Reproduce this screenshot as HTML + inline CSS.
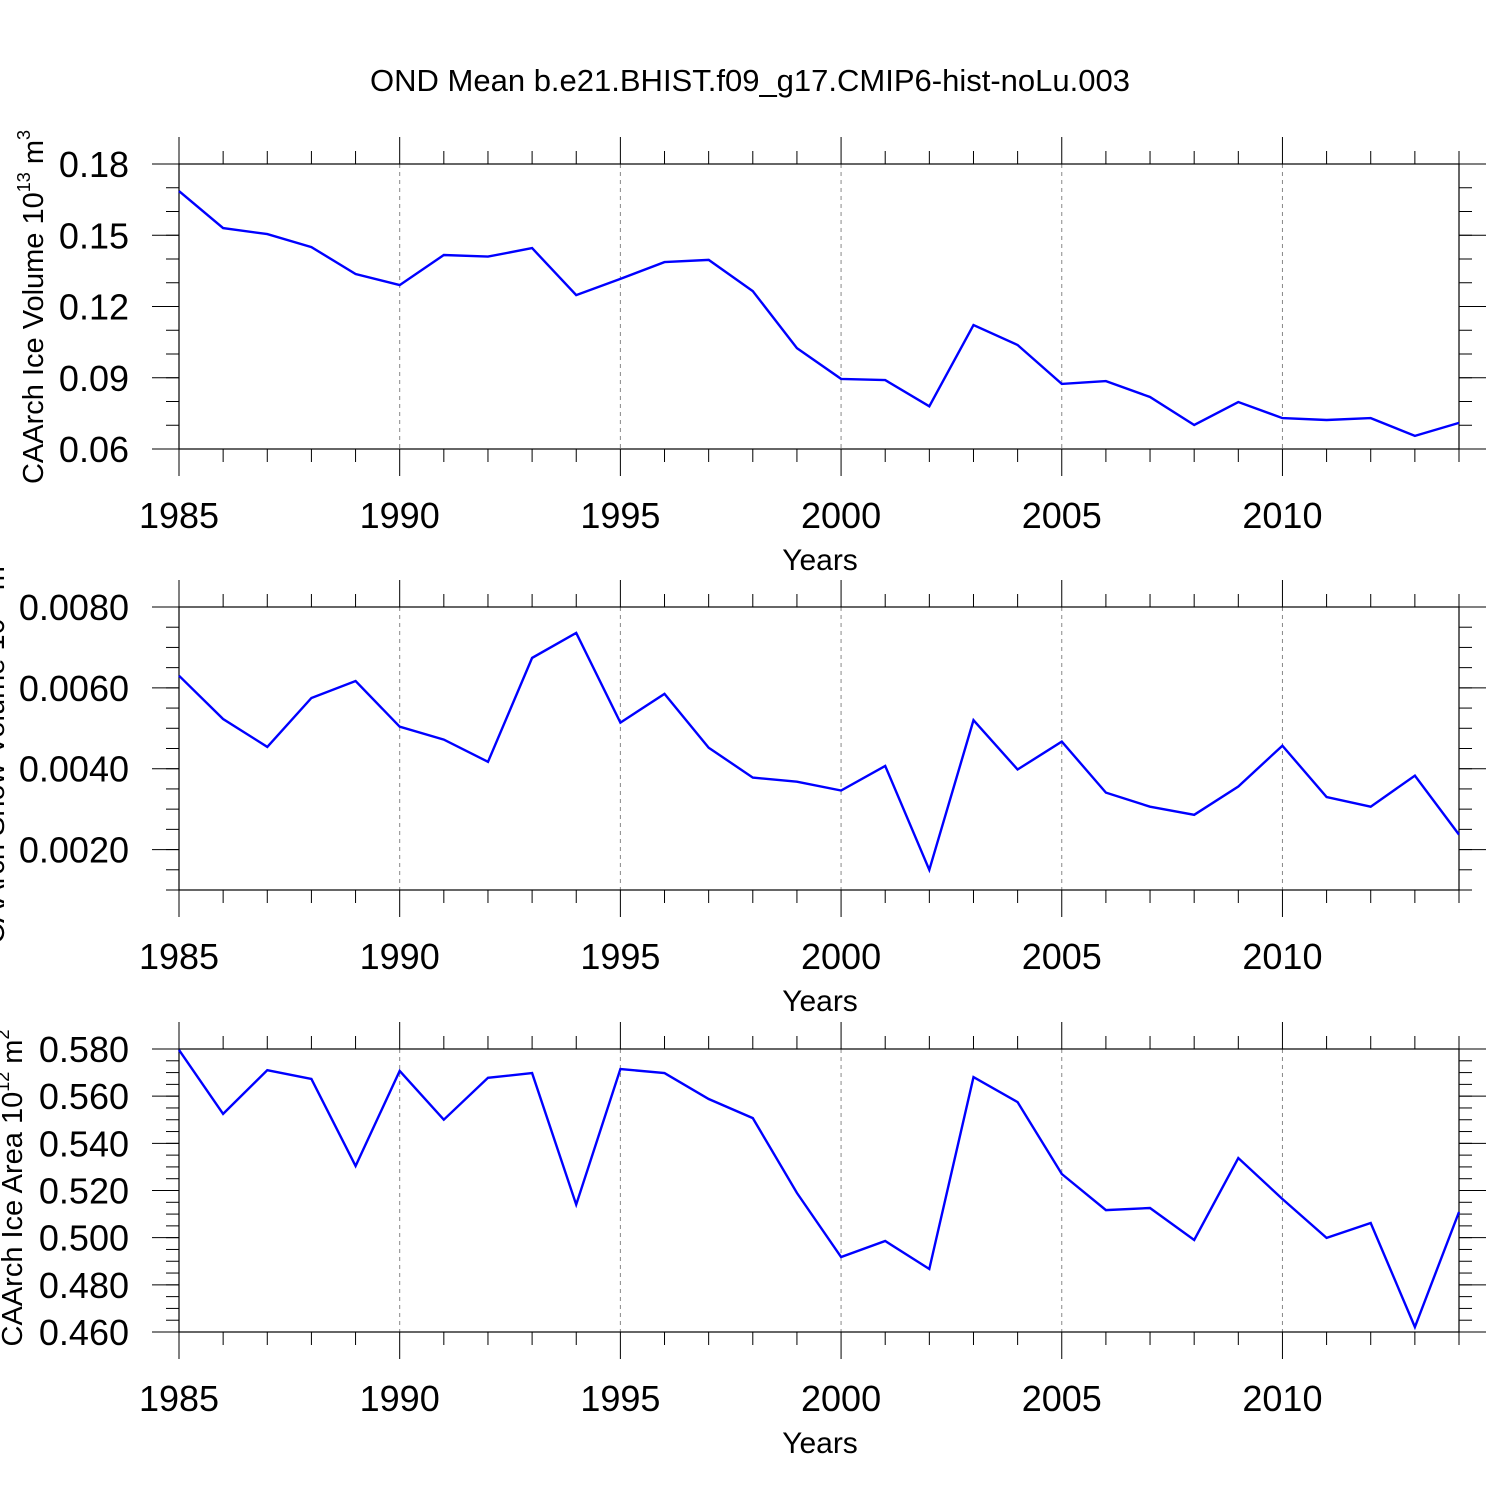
<!DOCTYPE html>
<html><head><meta charset="utf-8"><style>
html,body{margin:0;padding:0;background:#fff}
svg{display:block;font-family:"Liberation Sans",Arial,sans-serif}
</style></head><body>
<svg id="chart" width="1500" height="1500" viewBox="0 0 1500 1500">
<text x="750" y="91" text-anchor="middle" font-size="31">OND Mean b.e21.BHIST.f09_g17.CMIP6-hist-noLu.003</text>
</svg>
<script>
const years = [1985,1986,1987,1988,1989,1990,1991,1992,1993,1994,1995,1996,1997,1998,1999,2000,2001,2002,2003,2004,2005,2006,2007,2008,2009,2010,2011,2012,2013,2014];
const iceVolume = [0.1686,0.153,0.1505,0.145,0.1337,0.129,0.1417,0.141,0.1446,0.1248,0.1316,0.1387,0.1396,0.1265,0.1025,0.0895,0.089,0.078,0.1122,0.1038,0.0874,0.0886,0.0819,0.0701,0.0798,0.073,0.0722,0.073,0.0655,0.071];
const snowVolume = [0.0063,0.00523,0.00454,0.00575,0.00617,0.00504,0.00472,0.00417,0.00674,0.00736,0.00514,0.00585,0.00452,0.00378,0.00368,0.00346,0.00407,0.0015,0.0052,0.00398,0.00467,0.00341,0.00306,0.00286,0.00356,0.00457,0.0033,0.00306,0.00383,0.00237];
const iceArea = [0.5796,0.5525,0.571,0.5673,0.5304,0.5707,0.55,0.5678,0.5698,0.514,0.5715,0.5698,0.5588,0.5507,0.519,0.4918,0.4986,0.4867,0.5681,0.5575,0.527,0.5117,0.5126,0.499,0.5338,0.5164,0.4999,0.5062,0.4621,0.5109];
const xMajorTicks = [1985,1990,1995,2000,2005,2010];
const volTicks = ["0.06","0.09","0.12","0.15","0.18"];
const snowTicks = ["0.0020","0.0040","0.0060","0.0080"];
const areaTicks = ["0.460","0.480","0.500","0.520","0.540","0.560","0.580"];

const NS="http://www.w3.org/2000/svg";
const svg=document.getElementById('chart');
function mk(tag,attrs,parent){const e=document.createElementNS(NS,tag);for(const k in attrs)e.setAttribute(k,attrs[k]);(parent||svg).appendChild(e);return e;}
const X0=179,X1=1459;
function xs(yr){return X0+(yr-1985)*(X1-X0)/29;}

function panel(cfg){
  const g=mk('g',{});
  
  
  const {top,bot,ymin,ymax}=cfg;
  const ys=v=>bot-(v-ymin)/(ymax-ymin)*(bot-top);
  xMajorTicks.slice(1).forEach(yr=>{
    const l=mk('line',{x1:xs(yr),x2:xs(yr),y1:top,y2:bot,stroke:'#888','stroke-width':1,'stroke-dasharray':'4,4'},g);
    
    
  });
  const fr=mk('rect',{x:X0,y:top,width:X1-X0,height:bot-top,fill:'none',stroke:'#000','stroke-width':1.2},g);
  
  
  years.forEach(yr=>{
    const maj=xMajorTicks.includes(yr); const L=maj?27:13; const x=xs(yr);
    mk('line',{x1:x,x2:x,y1:top-L,y2:top,stroke:'#000','stroke-width':1},g);
    mk('line',{x1:x,x2:x,y1:bot,y2:bot+L,stroke:'#000','stroke-width':1},g);
  });
  xMajorTicks.forEach(yr=>{
    const t=mk('text',{x:xs(yr),y:bot+79,'text-anchor':'middle','font-size':36},g);
    t.textContent=yr;
    
    
  });
  const xt=mk('text',{x:820,y:bot+121,'text-anchor':'middle','font-size':30},g);
  xt.textContent='Years';
  
  
  const nMin=Math.round((ymax-ymin)/cfg.minorStep);
  for(let i=0;i<=nMin;i++){
    const y=ys(ymin+i*cfg.minorStep);
    mk('line',{x1:X0-13,x2:X0,y1:y,y2:y,stroke:'#000','stroke-width':1},g);
    mk('line',{x1:X1,x2:X1+13,y1:y,y2:y,stroke:'#000','stroke-width':1},g);
  }
  cfg.ticks.forEach(s=>{
    const y=ys(parseFloat(s));
    mk('line',{x1:X0-27,x2:X0,y1:y,y2:y,stroke:'#000','stroke-width':1},g);
    mk('line',{x1:X1,x2:X1+27,y1:y,y2:y,stroke:'#000','stroke-width':1},g);
    const t=mk('text',{x:129,y:y+13,'text-anchor':'end','font-size':36},g);
    t.textContent=s;
    
    
  });
  const yt=mk('text',{transform:`translate(${cfg.titleX},${cfg.titleY}) rotate(-90)`,'text-anchor':'middle','font-size':29},g);
  yt.innerHTML=cfg.title;
  
  
  const pts=years.map((yr,i)=>xs(yr).toFixed(1)+','+ys(cfg.data[i]).toFixed(1)).join(' ');
  const pl=mk('polyline',{points:pts,fill:'none',stroke:'#0000ff','stroke-width':2.4},g);
  
  
}
panel({name:'ice-volume-panel',top:164,bot:449,ymin:0.06,ymax:0.18,ticks:volTicks,minorStep:0.01,data:iceVolume,titleX:43,titleY:307,
  title:'CAArch Ice Volume 10<tspan dy="-13" font-size="18">13</tspan><tspan dy="13"> m</tspan><tspan dy="-13" font-size="18">3</tspan>'});
panel({name:'snow-volume-panel',top:607,bot:890,ymin:0.001,ymax:0.008,ticks:snowTicks,minorStep:0.0005,data:snowVolume,titleX:4,titleY:750,
  title:'CAArch Snow Volume 10<tspan dy="-13" font-size="18">13</tspan><tspan dy="13"> m</tspan><tspan dy="-13" font-size="18">3</tspan>'});
panel({name:'ice-area-panel',top:1049,bot:1332,ymin:0.46,ymax:0.58,ticks:areaTicks,minorStep:0.005,data:iceArea,titleX:22,titleY:1188,
  title:'CAArch Ice Area 10<tspan dy="-13" font-size="18">12</tspan><tspan dy="13"> m</tspan><tspan dy="-13" font-size="18">2</tspan>'});
</script>
</body></html>
